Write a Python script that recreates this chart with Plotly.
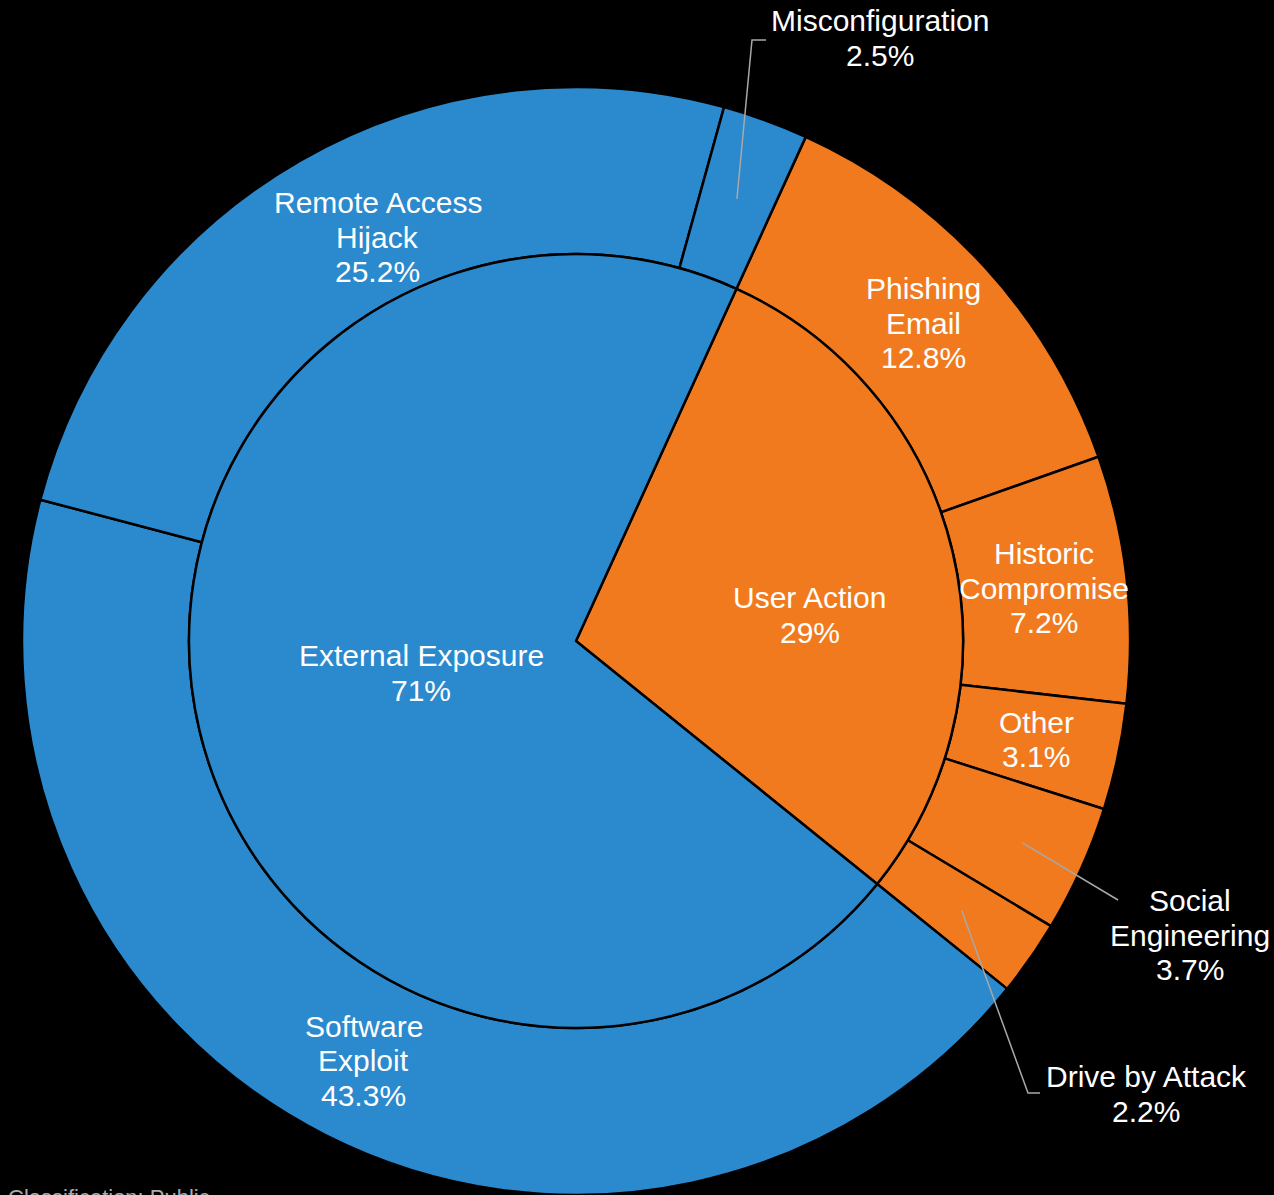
import math
import plotly.graph_objects as go

# ---------------- data ----------------
inner_labels = ["User Action", "External Exposure"]
inner_values = [29, 71]

outer_labels = ["Phishing Email", "Historic Compromise", "Other", "Social Engineering",
                "Drive by Attack", "Software Exploit", "Remote Access Hijack", "Misconfiguration"]
outer_values = [12.8, 7.2, 3.1, 3.7, 2.2, 43.3, 25.2, 2.5]
outer_parent = ["User Action", "User Action", "User Action", "User Action",
                "User Action", "External Exposure", "External Exposure", "External Exposure"]

# display text split into lines
display_lines = {
    "User Action": ["User Action"],
    "External Exposure": ["External Exposure"],
    "Phishing Email": ["Phishing", "Email"],
    "Historic Compromise": ["Historic", "Compromise"],
    "Other": ["Other"],
    "Social Engineering": ["Social", "Engineering"],
    "Drive by Attack": ["Drive by Attack"],
    "Software Exploit": ["Software", "Exploit"],
    "Remote Access Hijack": ["Remote Access", "Hijack"],
    "Misconfiguration": ["Misconfiguration"],
}
footer_text = "Classification: Public"

# ---------------- layout / style ----------------
W, H = 1274, 1195
CX, CY = 576, 641          # pie centre (px from top-left)
R_OUT = H - CY             # outer radius (touches bottom)
R_IN = 387                 # inner pie radius
ROTATION = 24.5
BLUE = "#2B89CD"
ORANGE = "#F17A1F"
parent_color = {"User Action": ORANGE, "External Exposure": BLUE}
FONT = "Liberation Sans, Arial, Helvetica, sans-serif"
FS = 30
LINE_H = 34.5
LINE_COLOR = "#A8A8A8"

# label placement overrides: (angle nudge deg, radius px)
label_override = {
    "Remote Access Hijack": (3.7, 450),
    "User Action": (7.0, 235),
    "External Exposure": (1.6, 158),
}
# outside labels: text centre px, leader path points px, leader start radius
outside = {
    "Misconfiguration": dict(text=(880, 38), path=[(752, 40), (766, 40)], r0=None),
    "Social Engineering": dict(text=(1190, 935), path=[(1118, 900)], r0=490),
    "Drive by Attack": dict(text=(1146, 1094), path=[(1028, 1093), (1040, 1093)], r0=None),
}


def px2paper(x, y):
    return x / W, 1 - y / H


def polar(angle_deg, r):
    a = math.radians(angle_deg)
    return CX + r * math.sin(a), CY - r * math.cos(a)


def mid_angles(values):
    tot = sum(values)
    out, cur = [], ROTATION
    for v in values:
        span = v / tot * 360
        out.append(cur + span / 2)
        cur += span
    return out


cy_b = H - CY  # centre from bottom
fig = go.Figure()
fig.add_trace(go.Pie(
    labels=outer_labels, values=outer_values, sort=False, direction="clockwise",
    rotation=ROTATION, hole=R_IN / R_OUT, textinfo="none", hoverinfo="skip",
    marker=dict(colors=[parent_color[p] for p in outer_parent], line=dict(color="black", width=2.5)),
    domain=dict(x=[(CX - R_OUT) / W, (CX + R_OUT) / W], y=[0, 2 * cy_b / H]),
    showlegend=False,
))
fig.add_trace(go.Pie(
    labels=inner_labels, values=inner_values, sort=False, direction="clockwise",
    rotation=ROTATION, textinfo="none", hoverinfo="skip",
    marker=dict(colors=[parent_color[l] for l in inner_labels], line=dict(color="black", width=2.5)),
    domain=dict(x=[(CX - R_IN) / W, (CX + R_IN) / W], y=[(cy_b - R_IN) / H, (cy_b + R_IN) / H]),
    showlegend=False,
))

annotations = []
shapes = []


def add_label(name, value, x, y):
    lines = display_lines[name] + [f"{value:g}%"]
    n = len(lines)
    for i, txt in enumerate(lines):
        ly = y + (i - (n - 1) / 2) * LINE_H
        px, py = px2paper(x, ly)
        annotations.append(dict(
            x=px, y=py, xref="paper", yref="paper", xanchor="center", yanchor="middle",
            text=txt, showarrow=False,
            font=dict(family=FONT, size=FS, color="white"), align="center",
        ))


ring_mid = (R_IN + R_OUT) / 2
for name, val, ang in zip(inner_labels, inner_values, mid_angles(inner_values)):
    nudge, r = label_override.get(name, (0, R_IN / 2))
    add_label(name, val, *polar(ang + nudge, r))

for name, val, ang in zip(outer_labels, outer_values, mid_angles(outer_values)):
    if name in outside:
        o = outside[name]
        add_label(name, val, *o["text"])
        sx, sy = polar(ang, o["r0"] or ring_mid)
        pts = [(sx, sy)] + o["path"]
        path = "M " + " L ".join(f"{px2paper(a, b)[0]:.5f},{px2paper(a, b)[1]:.5f}" for a, b in pts)
        shapes.append(dict(type="path", path=path, xref="paper", yref="paper",
                           line=dict(color=LINE_COLOR, width=1.5)))
    else:
        nudge, r = label_override.get(name, (0, ring_mid))
        add_label(name, val, *polar(ang + nudge, r))

# footer (partly cut off by the bottom edge, as in the reference)
annotations.append(dict(
    x=6 / W, y=1 - 1182.5 / H, xref="paper", yref="paper", xanchor="left", yanchor="top",
    text=footer_text, showarrow=False,
    font=dict(family=FONT, size=22, color="#AAAAAA"),
))

fig.update_layout(
    width=W, height=H, margin=dict(l=0, r=0, t=0, b=0),
    paper_bgcolor="black", plot_bgcolor="black",
    annotations=annotations, shapes=shapes,
)
fig.write_html(
    "out.html",
    config={"displayModeBar": False},
    post_script="document.body.style.margin='0';document.body.style.background='black';"
                "document.documentElement.style.overflow='hidden';",
)
